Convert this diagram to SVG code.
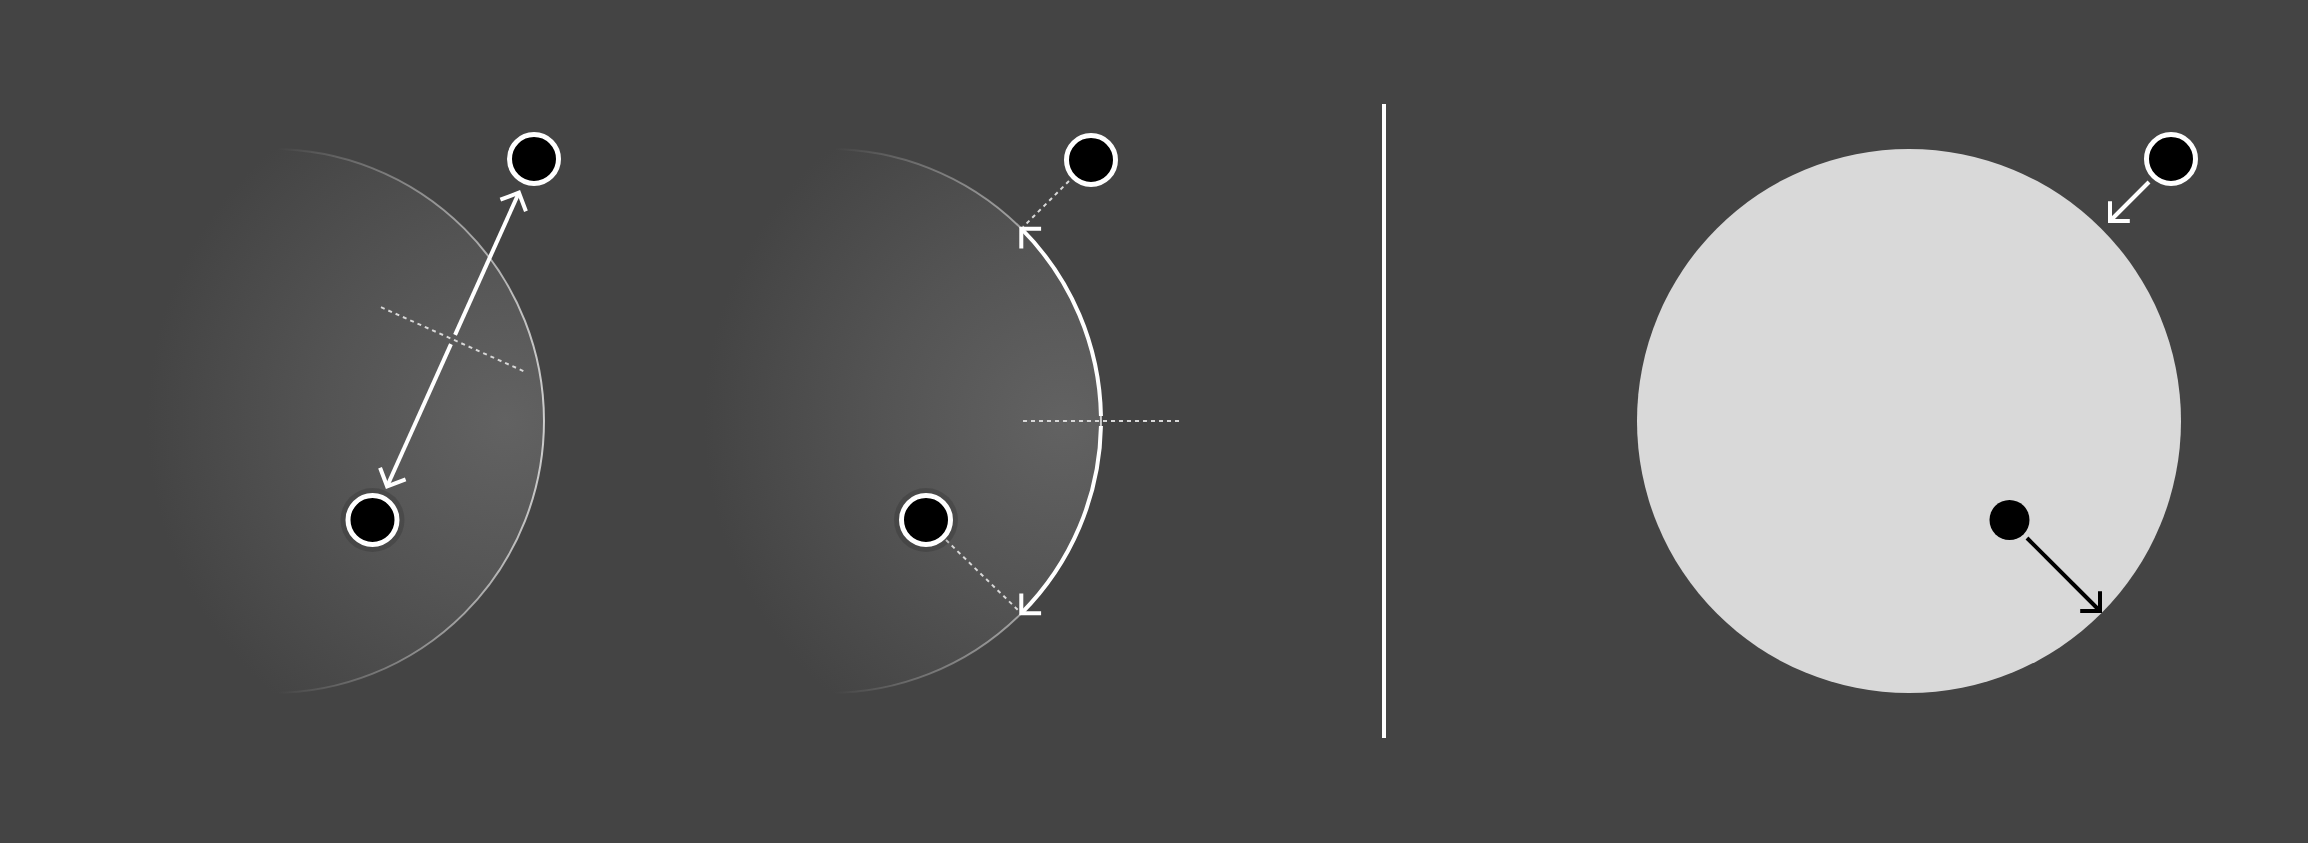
<svg xmlns="http://www.w3.org/2000/svg" width="2308" height="843" viewBox="0 0 2308 843">
  <style>
    .node { fill: #000; stroke: #fff; stroke-width: 5; }
    .halo { fill: #000; opacity: 0.14; }
    .dash { fill: none; stroke: #d8d8d8; stroke-width: 2; stroke-dasharray: 4 4; }
    .wline { fill: none; stroke: #fff; stroke-width: 4; }
    .bline { fill: none; stroke: #000; stroke-width: 4; }
    .ring { fill: url(#glow); stroke: url(#edge); stroke-width: 2; }
  </style>
  <defs>
    <radialGradient id="glow" cx="0.93" cy="0.5" r="0.66" fx="0.93" fy="0.5">
      <stop offset="0" stop-color="#626262"/>
      <stop offset="0.5" stop-color="#545454"/>
      <stop offset="1" stop-color="#444444"/>
    </radialGradient>
    <linearGradient id="edge" x1="0.51" y1="0" x2="1" y2="0">
      <stop offset="0" stop-color="#ffffff" stop-opacity="0"/>
      <stop offset="1" stop-color="#ffffff" stop-opacity="0.7"/>
    </linearGradient>
    <marker id="ahw" viewBox="-20 -20 40 40" markerWidth="40" markerHeight="40" refX="0" refY="0" orient="auto-start-reverse" markerUnits="userSpaceOnUse">
      <path d="M-14,-14 L0,0 L-14,14" fill="none" stroke="#fff" stroke-width="4"/>
    </marker>
    <marker id="ahb" viewBox="-20 -20 40 40" markerWidth="40" markerHeight="40" refX="0" refY="0" orient="auto-start-reverse" markerUnits="userSpaceOnUse">
      <path d="M-14,-14 L0,0 L-14,14" fill="none" stroke="#000" stroke-width="4"/>
    </marker>
  </defs>

  <rect x="0" y="0" width="2308" height="843" fill="#444444"/>

  <!-- panel 1 -->
  <g id="region-left">
    <circle class="ring" cx="272" cy="421" r="272"/>
  </g>
  <!-- panel 2 -->
  <g id="region-middle">
    <circle class="ring" cx="829" cy="421" r="272"/>
  </g>
  <!-- panel 3 -->
  <g id="region-right">
    <circle cx="1909" cy="421" r="272" fill="#d9d9d9"/>
  </g>

  <g id="separator">
    <line x1="1384" y1="104" x2="1384" y2="738" stroke="#fff" stroke-width="4"/>
  </g>

  <g id="connectors">
    <!-- panel 1 -->
    <line class="dash" x1="381" y1="307.2" x2="525" y2="371.8"/>
    <line class="wline" x1="450.95" y1="344.06" x2="387.1" y2="486.3" marker-end="url(#ahw)"/>
    <line class="wline" x1="455.05" y1="334.94" x2="518.9" y2="192.7" marker-end="url(#ahw)"/>
    <!-- panel 2 -->
    <line class="dash" x1="1069" y1="181" x2="1023" y2="227"/>
    <line class="dash" x1="946" y1="540" x2="1020" y2="612"/>
    <line class="dash" x1="1023" y1="421" x2="1181" y2="421"/>
    <path class="wline" d="M1100.95,426 A272,272 0 0 1 1021.3,613.3" marker-end="url(#ahw)"/>
    <path class="wline" d="M1100.95,416 A272,272 0 0 0 1021.3,228.7" marker-end="url(#ahw)"/>
    <!-- panel 3 -->
    <line class="wline" x1="2149" y1="182" x2="2110" y2="221" marker-end="url(#ahw)"/>
    <line class="bline" x1="2027" y1="538" x2="2100" y2="611" marker-end="url(#ahb)"/>
  </g>

  <g id="node-p1-outer">
    <circle class="node" cx="534" cy="159" r="24.5"/>
  </g>
  <g id="node-p1-inner">
    <circle class="halo" cx="372.5" cy="520" r="32"/>
    <circle class="node" cx="372.5" cy="520" r="24.5"/>
  </g>
  <g id="node-p2-outer">
    <circle class="node" cx="1091" cy="160" r="24.5"/>
  </g>
  <g id="node-p2-inner">
    <circle class="halo" cx="926" cy="520" r="32"/>
    <circle class="node" cx="926" cy="520" r="24.5"/>
  </g>
  <g id="node-p3-outer">
    <circle class="node" cx="2171" cy="159" r="24.5"/>
  </g>
  <g id="node-p3-inner">
    <circle cx="2009.5" cy="520" r="20" fill="#000"/>
  </g>
</svg>
